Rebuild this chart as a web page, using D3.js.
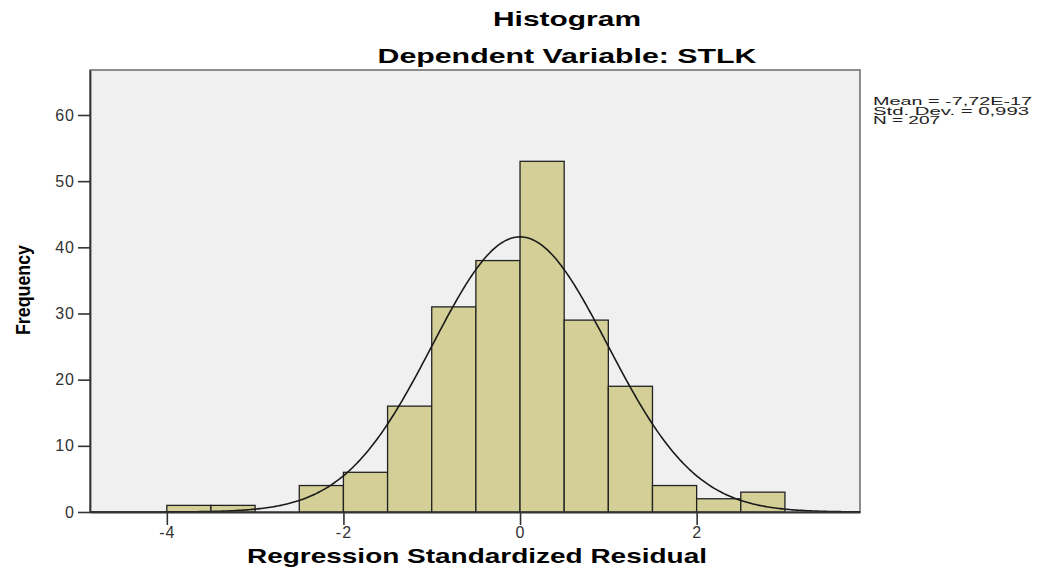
<!DOCTYPE html>
<html>
<head>
<meta charset="utf-8">
<script src="https://cdn.jsdelivr.net/npm/d3@7"></script>
<style>
  body { margin: 0; background: #fff; }
  text { font-family: "Liberation Sans", Arial, sans-serif; }
  .title { font-size: 21px; font-weight: bold; }
  .stats { font-size: 10px; fill: #222; }
</style>
</head>
<body>
<svg width="1039" height="572"></svg>
<script>
// bins of standardized residual (lower edge), width 0.5
var binStarts = [-4, -3.5, -3, -2.5, -2, -1.5, -1, -0.5, 0, 0.5, 1, 1.5, 2, 2.5];
var binCounts = [1, 1, 0, 4, 6, 16, 31, 38, 53, 29, 19, 4, 2, 3];
var binWidth = 0.5;
var xTicks = [-4, -2, 0, 2];
var yTicks = [0, 10, 20, 30, 40, 50, 60];
var statMean = -7.72e-17, statSd = 0.993, statN = 207;
var statLines = ['Mean = -7,72E-17', 'Std. Dev. = 0,993', 'N = 207'];
var statWidths = [159, 156, 67];

var svg = d3.select('svg');
var pLeft = 90, pRight = 860, pTop = 70, pBottom = 512;

var x = d3.scaleLinear().domain([-4.87, 3.85]).range([pLeft, pRight]);
var y = d3.scaleLinear().domain([0, 66.8]).range([pBottom, pTop]);

// plot background
svg.append('rect')
    .attr('x', pLeft).attr('y', pTop)
    .attr('width', pRight - pLeft).attr('height', pBottom - pTop)
    .attr('fill', '#f0f0f0')
    .attr('stroke', '#6b6b6b').attr('stroke-width', 1.5);

// bars
svg.selectAll('rect.bar')
    .data(binStarts.map(function (s, i) { return { x0: s, n: binCounts[i] }; })
        .filter(function (d) { return d.n > 0; }))
    .enter().append('rect')
    .attr('class', 'bar')
    .attr('x', function (d) { return x(d.x0); })
    .attr('y', function (d) { return y(d.n); })
    .attr('width', function (d) { return x(d.x0 + binWidth) - x(d.x0); })
    .attr('height', function (d) { return y(0) - y(d.n); })
    .attr('fill', '#d3cf97')
    .attr('stroke', '#222').attr('stroke-width', 1.3);

// normal curve from the stated mean, sd and N
var scaleK = statN * binWidth / (statSd * Math.sqrt(2 * Math.PI));
var curveX = d3.range(-4.87, 3.86, 0.02);
var line = d3.line()
    .x(function (v) { return x(v); })
    .y(function (v) { var z = (v - statMean) / statSd; return y(scaleK * Math.exp(-z * z / 2)); });
svg.append('path')
    .datum(curveX)
    .attr('d', line)
    .attr('fill', 'none')
    .attr('stroke', '#1a1a1a').attr('stroke-width', 1.6);

// axes
var yAxis = svg.append('g')
    .attr('transform', 'translate(' + pLeft + ',0)')
    .call(d3.axisLeft(y).tickValues(yTicks).tickSize(12).tickPadding(3).tickSizeOuter(0));
var xAxis = svg.append('g')
    .attr('transform', 'translate(0,' + pBottom + ')')
    .call(d3.axisBottom(x).tickValues(xTicks).tickSize(13).tickPadding(2).tickSizeOuter(0)
        .tickFormat(d3.format('d')));
[yAxis, xAxis].forEach(function (a) {
    a.select('.domain').attr('stroke', '#333').attr('stroke-width', 1.8);
    a.selectAll('.tick line').attr('stroke', '#333').attr('stroke-width', 1.6);
    a.selectAll('.tick text')
        .attr('font-family', '"Liberation Sans", Arial, sans-serif')
        .attr('font-size', 16).attr('letter-spacing', '1px').attr('fill', '#333');
});
xAxis.selectAll('.tick text').text(function (d) { return d < 0 ? '-' + Math.abs(d) : d; });

// titles
svg.append('text').attr('class', 'title')
    .attr('x', 567).attr('y', 26).attr('text-anchor', 'middle')
    .attr('textLength', 148).attr('lengthAdjust', 'spacingAndGlyphs')
    .text('Histogram');
svg.append('text').attr('class', 'title')
    .attr('x', 567).attr('y', 63).attr('text-anchor', 'middle')
    .attr('textLength', 379).attr('lengthAdjust', 'spacingAndGlyphs')
    .text('Dependent Variable: STLK');
svg.append('text').attr('class', 'title')
    .attr('x', (pLeft + pRight) / 2 + 2).attr('y', 563).attr('text-anchor', 'middle')
    .attr('textLength', 460).attr('lengthAdjust', 'spacingAndGlyphs')
    .text('Regression Standardized Residual');
svg.append('text')
    .attr('transform', 'translate(30,290) rotate(-90)')
    .attr('text-anchor', 'middle')
    .attr('font-size', 20).attr('font-weight', 'bold')
    .attr('textLength', 90).attr('lengthAdjust', 'spacingAndGlyphs')
    .text('Frequency');

// stats box text
svg.selectAll('text.stats')
    .data(statLines).enter().append('text')
    .attr('class', 'stats')
    .attr('x', 873)
    .attr('y', function (d, i) { return 105 + i * 9.7; })
    .attr('textLength', function (d, i) { return statWidths[i]; })
    .attr('lengthAdjust', 'spacingAndGlyphs')
    .text(function (d) { return d; });
</script>
</body>
</html>
